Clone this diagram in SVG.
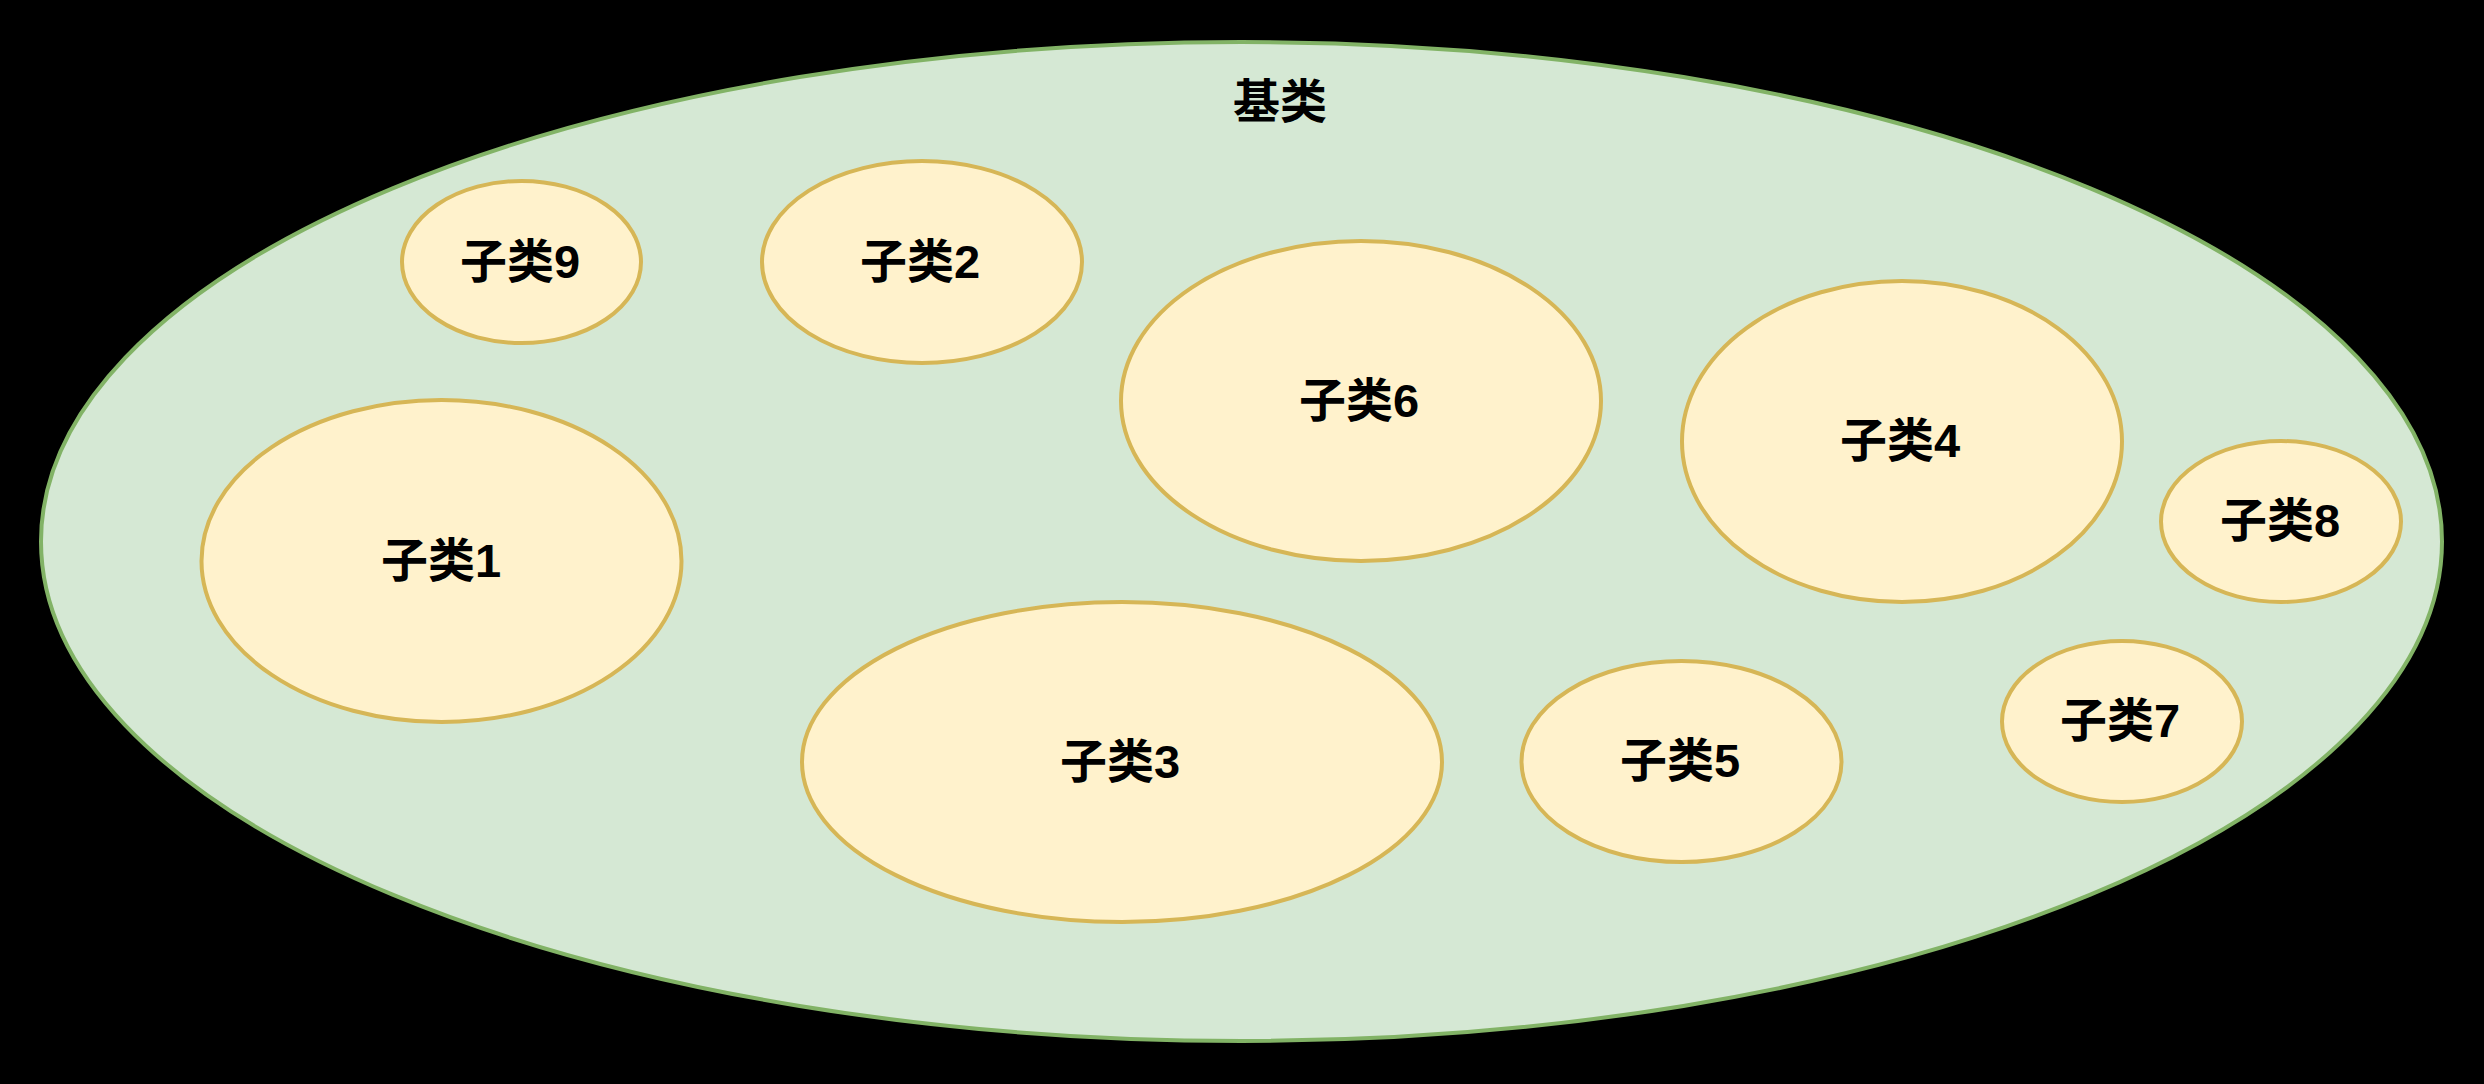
<svg xmlns="http://www.w3.org/2000/svg" width="2484" height="1084" viewBox="0 0 2484 1084">
<style>
.base{fill:#d5e8d4;stroke:#82b366;stroke-width:4}
.sub{fill:#fff2cc;stroke:#d6b656;stroke-width:4}
.lbl{font-family:"Liberation Sans","Noto Sans CJK SC",sans-serif;font-weight:bold;font-size:47px;fill:#000;text-anchor:middle;dominant-baseline:central}
</style>
<rect x="0" y="0" width="2484" height="1084" fill="#000"/>
<g id="base">
<ellipse class="base" cx="1241.5" cy="541.5" rx="1200.5" ry="499.5"/>
<text class="lbl" x="1280" y="101">基类</text>
</g>
<g id="sub9"><ellipse class="sub" cx="521.5" cy="262" rx="119.5" ry="81"/><text class="lbl" x="520" y="261">子类9</text></g>
<g id="sub2"><ellipse class="sub" cx="922" cy="262" rx="160" ry="101"/><text class="lbl" x="920" y="261">子类2</text></g>
<g id="sub1"><ellipse class="sub" cx="441.5" cy="561" rx="240" ry="161"/><text class="lbl" x="441" y="560">子类1</text></g>
<g id="sub6"><ellipse class="sub" cx="1361" cy="401" rx="240" ry="160"/><text class="lbl" x="1359" y="400">子类6</text></g>
<g id="sub4"><ellipse class="sub" cx="1902" cy="441.5" rx="220" ry="160.5"/><text class="lbl" x="1900" y="440">子类4</text></g>
<g id="sub8"><ellipse class="sub" cx="2281" cy="521.5" rx="120" ry="80.5"/><text class="lbl" x="2280" y="520">子类8</text></g>
<g id="sub3"><ellipse class="sub" cx="1122" cy="762" rx="320" ry="160"/><text class="lbl" x="1120" y="761">子类3</text></g>
<g id="sub5"><ellipse class="sub" cx="1681.5" cy="761.5" rx="160" ry="100.5"/><text class="lbl" x="1680" y="760">子类5</text></g>
<g id="sub7"><ellipse class="sub" cx="2122" cy="721.5" rx="120" ry="80.5"/><text class="lbl" x="2120" y="720">子类7</text></g>
<g id="connectors"/>
</svg>
